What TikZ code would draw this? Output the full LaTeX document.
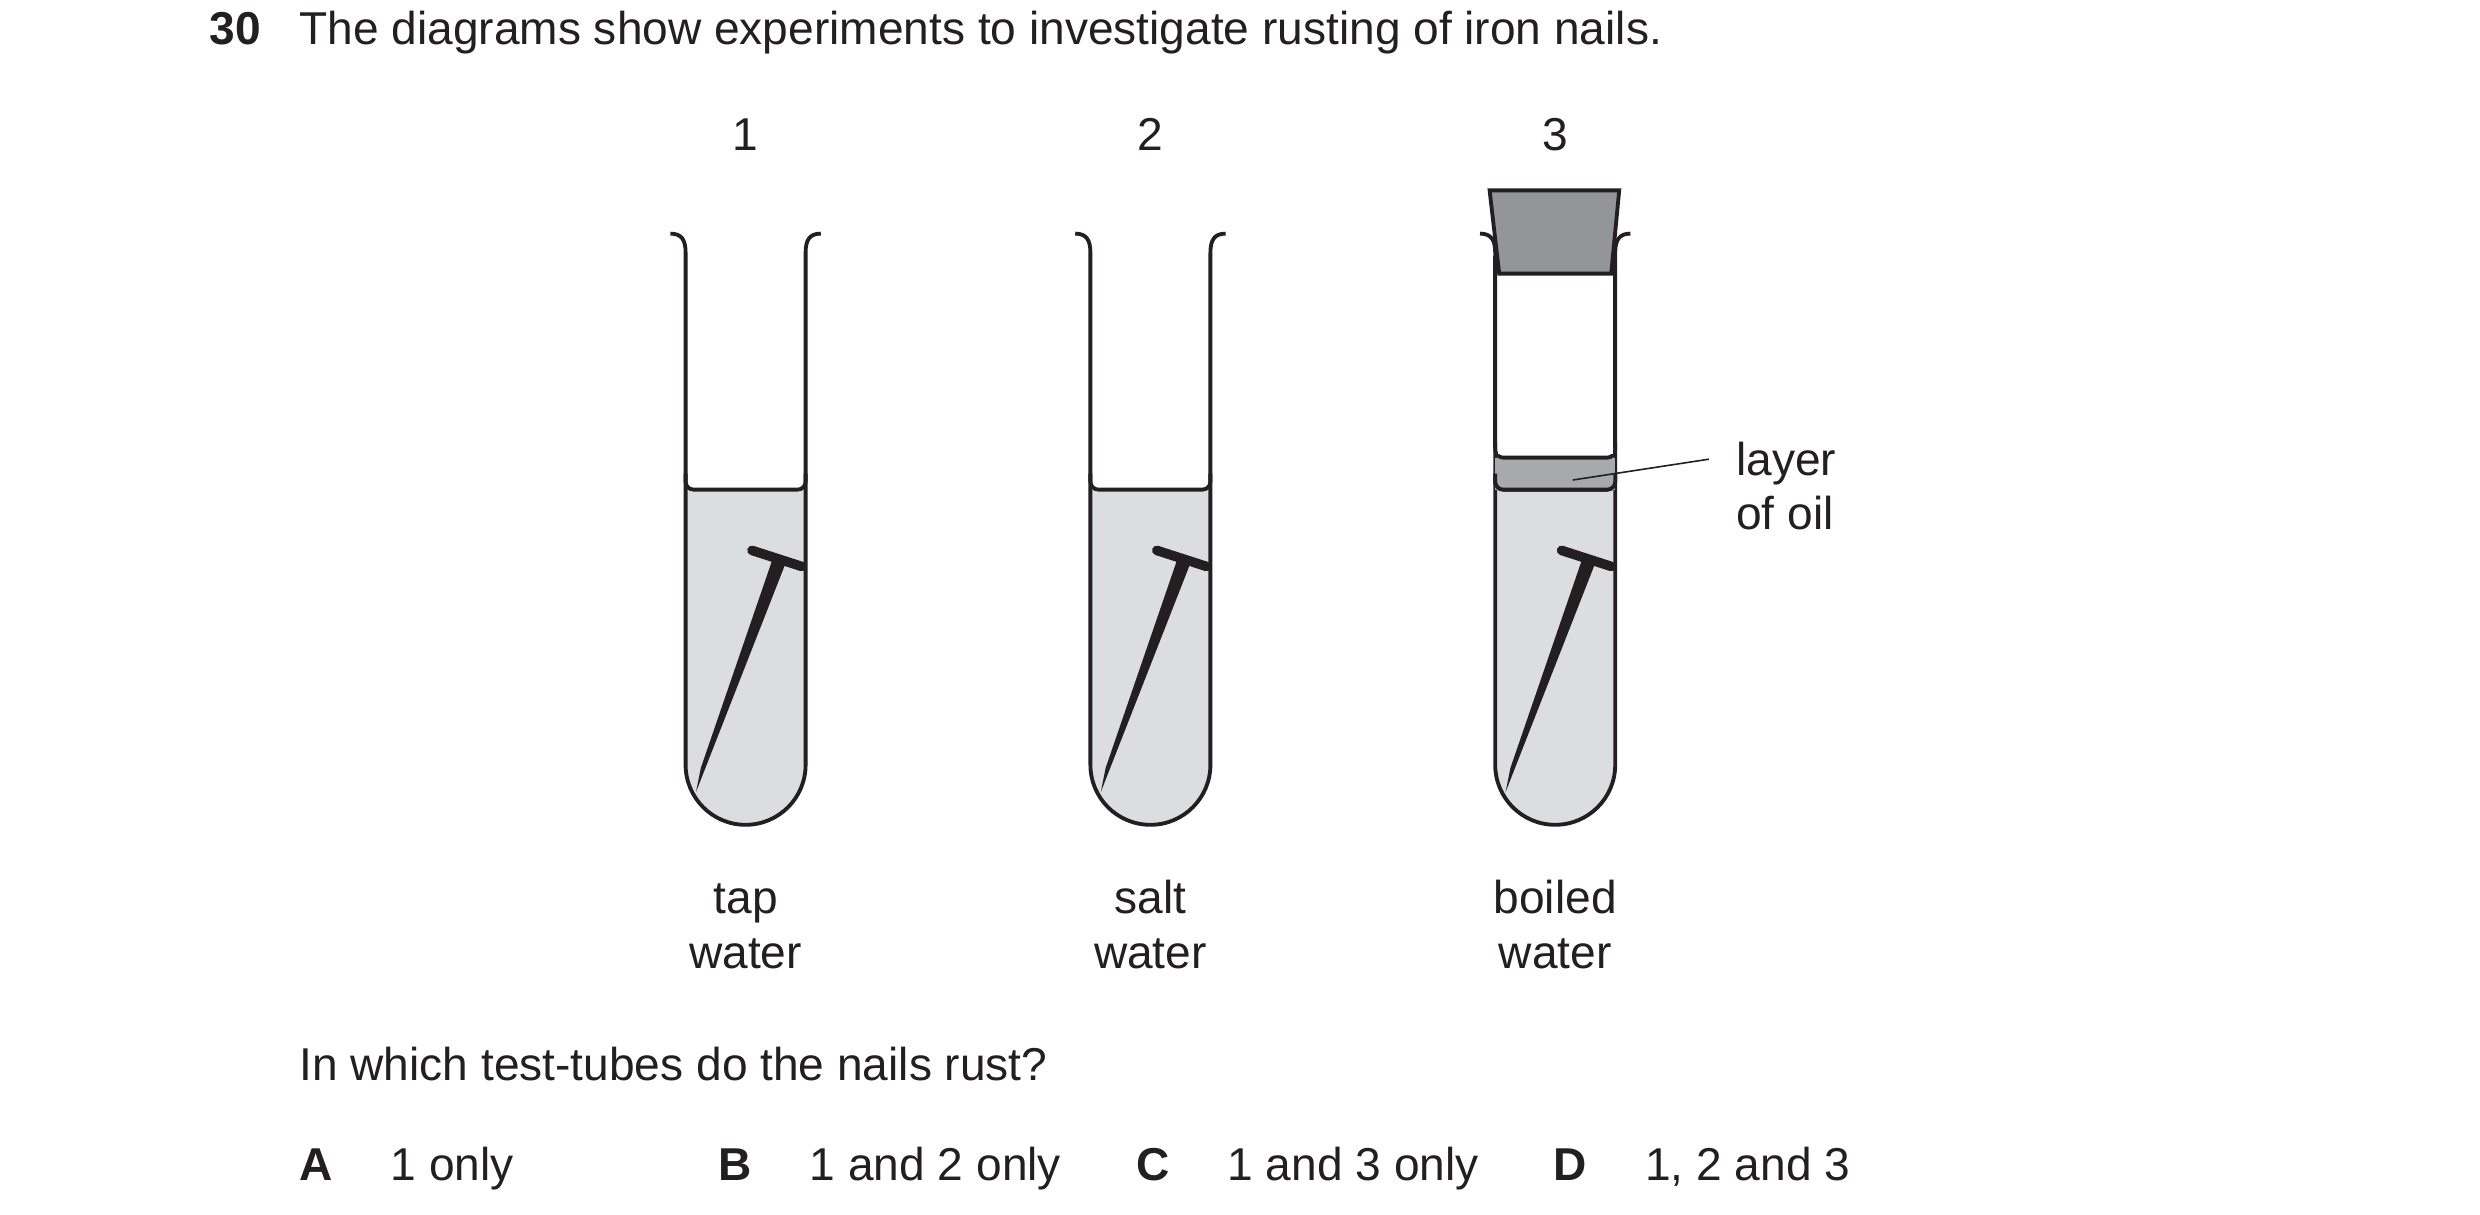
\documentclass[tikz,border=0pt]{standalone}
\usepackage{fontspec}
\setmainfont{Liberation Sans}
\definecolor{ink}{HTML}{231F20}
\definecolor{liq}{HTML}{DCDDDF}
\definecolor{oil}{HTML}{A7A9AC}
\definecolor{stop}{HTML}{939598}
\begin{document}
\begin{tikzpicture}[x=1pt,y=-1pt,
  txt/.style={inner sep=0pt,font=\fontsize{28.8}{34}\selectfont,text=ink,anchor=base west},
  bold/.style={txt,font=\fontsize{28.8}{34}\selectfont\bfseries},
  lbl/.style={txt,anchor=base},
  wall/.style={draw=ink,line width=2.4pt},
  nail/.style={draw=ink,line width=6pt,line cap=round}]
\useasboundingbox (0,0) rectangle (1550,758.75);
\newcommand{\tube}[2]{%
 \begin{scope}[shift={(#1,0)}]
  \fill[liq] (-37.5,#2) -- (-37.5,478) arc[start angle=180,end angle=0,radius=37.5] -- (37.5,#2) -- cycle;
  \fill[ink] (17,349) -- (25,352) -- (-31,495) -- (-28,480) -- cycle;
  \draw[nail] (4,344) -- (35,354);
  \draw[wall,rounded corners=5pt] (-37.5,296) -- (-37.5,306) -- (37.5,306) -- (37.5,296);
  \draw[wall] (-47,146) .. controls (-40,146) and (-37.5,150) .. (-37.5,158) -- (-37.5,478)
     arc[start angle=180,end angle=0,radius=37.5] -- (37.5,158)
     .. controls (37.5,150) and (40,146) .. (47,146);
 \end{scope}}
\tube{466}{306}
\tube{719}{306}
\tube{972}{286}
% oil layer in tube 3
\fill[oil] (934.5,286) rectangle (1009.5,306);
\draw[wall,rounded corners=5pt] (934.5,276) -- (934.5,286) -- (1009.5,286) -- (1009.5,276);
\draw[wall,rounded corners=5pt] (934.5,296) -- (934.5,306) -- (1009.5,306) -- (1009.5,296);
\fill[white] (936,180) rectangle (1008,284);
\draw[wall] (934.5,160) -- (934.5,280) (1009.5,160) -- (1009.5,280);
\draw[wall,fill=stop] (931,119) -- (1012,119) -- (1007,171) -- (937,171) -- cycle;
\coordinate (oilpt) at (983,300);
\node[txt] (layer) at (1085,297) {layer};
\node[txt] (ofoil) at (1085,331) {of oil};
\draw[ink,line width=1pt] (oilpt) -- (1068,287);
% texts
\node[bold] (q) at (131,28) {30};
\node[txt] (title) at (187,28) {The diagrams show experiments to investigate rusting of iron nails.};
\node[lbl] (n1) at (466,94) {1};
\node[lbl] (n2) at (719,94) {2};
\node[lbl] (n3) at (972,94) {3};
\node[lbl] (l1a) at (466,571) {tap};
\node[lbl] (l1b) at (466,605) {water};
\node[lbl] (l2a) at (719,571) {salt};
\node[lbl] (l2b) at (719,605) {water};
\node[lbl] (l3a) at (972,571) {boiled};
\node[lbl] (l3b) at (972,605) {water};
\node[txt] (ques) at (187,675) {In which test-tubes do the nails rust?};
\node[bold] (A) at (187,738) {A};
\node[txt] (a) at (244,738) {1 only};
\node[bold] (B) at (449,738) {B};
\node[txt] (b) at (506,738) {1 and 2 only};
\node[bold] (C) at (710,738) {C};
\node[txt] (c) at (767,738) {1 and 3 only};
\node[bold] (D) at (971,738) {D};
\node[txt] (d) at (1028,738) {1, 2 and 3};
\end{tikzpicture}
\end{document}
